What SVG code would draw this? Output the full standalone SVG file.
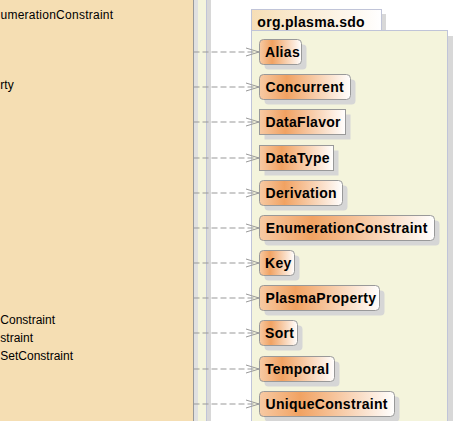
<svg xmlns="http://www.w3.org/2000/svg" width="470" height="421" viewBox="0 0 470 421">
<style>
.lt{font-family:"Liberation Sans",Arial,sans-serif;font-size:12px;fill:#000}
.nt{font-family:"Liberation Sans",Arial,sans-serif;font-size:14px;font-weight:bold;letter-spacing:0.3px;fill:#000}
.nb{fill:url(#ng);stroke:#999;stroke-width:1}
.sh{fill:#d6d6d6}
.cn{fill:none;stroke:#999;stroke-width:1;stroke-dasharray:6,3;marker-end:url(#oa)}
</style>
<defs>
<linearGradient id="ng" x1="0" y1="0" x2="1" y2="0">
<stop offset="0" stop-color="#f7caa4"/>
<stop offset="0.3" stop-color="#f1a262"/>
<stop offset="1" stop-color="#ffffff"/>
</linearGradient>
<linearGradient id="tg" x1="0" y1="0" x2="1" y2="0">
<stop offset="0" stop-color="#f6deb6"/>
<stop offset="1" stop-color="#ffffff"/>
</linearGradient>
<marker id="oa" markerUnits="userSpaceOnUse" markerWidth="16" markerHeight="12" refX="14" refY="5" orient="auto" overflow="visible">
<path d="M1,1 L14,5 L1,9" fill="none" stroke="#999" stroke-width="1"/>
</marker>
</defs>
<rect width="470" height="421" fill="#fff"/>
<g id="outer-package">
<rect x="-10" y="-10" width="216.5" height="450" fill="#f4f4dc" stroke="#c0c4d8"/>
<rect x="207" y="-10" width="4" height="450" fill="#d8d8d8"/>
</g>
<g id="left-package">
<rect x="194" y="-10" width="4" height="450" fill="#e0e0e0"/>
<rect x="-10" y="-10" width="203.5" height="450" fill="#f5deb3" stroke="#999"/>
<text class="lt" x="0.5" y="19" letter-spacing="0.25">umerationConstraint</text>
<text class="lt" x="0.3" y="88.5">rty</text>
<text class="lt" x="0.3" y="324.3">Constraint</text>
<text class="lt" x="0.3" y="342.3">straint</text>
<text class="lt" x="0.3" y="359.7">SetConstraint</text>
</g>
<g id="pkg-sdo">
<rect x="256" y="14" width="130" height="21" fill="#d8d8d8"/>
<rect x="256" y="36" width="197" height="400" fill="#d8d8d8"/>
<rect x="251.5" y="9.5" width="130" height="21" fill="url(#tg)" stroke="#c0c4d8"/>
<rect x="251.5" y="30.5" width="196" height="400" fill="#f4f4dc" stroke="#c0c4d8"/>
<text class="nt" x="257.3" y="26.5">org.plasma.sdo</text>
</g>
<g id="connectors">
<line class="cn" x1="193.5" y1="52" x2="259" y2="52"/>
<line class="cn" x1="193.5" y1="87" x2="259" y2="87"/>
<line class="cn" x1="193.5" y1="122" x2="259" y2="122"/>
<line class="cn" x1="193.5" y1="158" x2="259" y2="158"/>
<line class="cn" x1="193.5" y1="193" x2="259" y2="193"/>
<line class="cn" x1="193.5" y1="228" x2="259" y2="228"/>
<line class="cn" x1="193.5" y1="263" x2="259" y2="263"/>
<line class="cn" x1="193.5" y1="298" x2="259" y2="298"/>
<line class="cn" x1="193.5" y1="333" x2="259" y2="333"/>
<line class="cn" x1="193.5" y1="369" x2="259" y2="369"/>
<line class="cn" x1="193.5" y1="404" x2="259" y2="404"/>
</g>
<g id="Alias">
<rect class="sh" x="264.5" y="44.5" width="42" height="25" rx="4"/>
<rect class="nb" x="259.5" y="39.5" width="42" height="25" rx="4"/>
<text class="nt" x="265" y="56.5">Alias</text>
</g>
<g id="Concurrent">
<rect class="sh" x="264.5" y="79.5" width="91" height="25" rx="4"/>
<rect class="nb" x="259.5" y="74.5" width="91" height="25" rx="4"/>
<text class="nt" x="265.5" y="91.5">Concurrent</text>
</g>
<g id="DataFlavor">
<rect class="sh" x="264.5" y="114.5" width="86" height="25"/>
<rect class="nb" x="259.5" y="109.5" width="86" height="25"/>
<text class="nt" x="265.5" y="126.5">DataFlavor</text>
</g>
<g id="DataType">
<rect class="sh" x="264.5" y="150.5" width="74" height="25"/>
<rect class="nb" x="259.5" y="145.5" width="74" height="25"/>
<text class="nt" x="265.5" y="162.5">DataType</text>
</g>
<g id="Derivation">
<rect class="sh" x="264.5" y="185.5" width="83" height="25" rx="4"/>
<rect class="nb" x="259.5" y="180.5" width="83" height="25" rx="4"/>
<text class="nt" x="265.5" y="197.5">Derivation</text>
</g>
<g id="EnumerationConstraint">
<rect class="sh" x="264.5" y="220.5" width="175" height="25" rx="4"/>
<rect class="nb" x="259.5" y="215.5" width="175" height="25" rx="4"/>
<text class="nt" x="265.8" y="232.5">EnumerationConstraint</text>
</g>
<g id="Key">
<rect class="sh" x="264.5" y="255.5" width="35" height="25" rx="4"/>
<rect class="nb" x="259.5" y="250.5" width="35" height="25" rx="4"/>
<text class="nt" x="265" y="267.5">Key</text>
</g>
<g id="PlasmaProperty">
<rect class="sh" x="264.5" y="290.5" width="120" height="25" rx="4"/>
<rect class="nb" x="259.5" y="285.5" width="120" height="25" rx="4"/>
<text class="nt" x="265.5" y="302.5">PlasmaProperty</text>
</g>
<g id="Sort">
<rect class="sh" x="264.5" y="325.5" width="38" height="25" rx="4"/>
<rect class="nb" x="259.5" y="320.5" width="38" height="25" rx="4"/>
<text class="nt" x="265" y="337.5">Sort</text>
</g>
<g id="Temporal">
<rect class="sh" x="264.5" y="361.5" width="75" height="25" rx="4"/>
<rect class="nb" x="259.5" y="356.5" width="75" height="25" rx="4"/>
<text class="nt" x="265" y="373.5">Temporal</text>
</g>
<g id="UniqueConstraint">
<rect class="sh" x="264.5" y="396.5" width="135" height="25" rx="4"/>
<rect class="nb" x="259.5" y="391.5" width="135" height="25" rx="4"/>
<text class="nt" x="265.5" y="408.5">UniqueConstraint</text>
</g>
</svg>
